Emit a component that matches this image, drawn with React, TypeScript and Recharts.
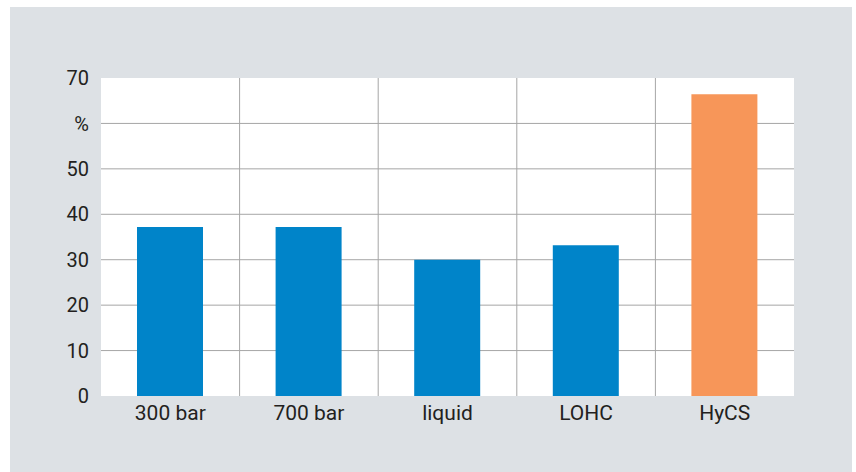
import { BarChart, Bar, XAxis, YAxis, CartesianGrid, Cell } from 'recharts';

const categories = ['300 bar', '700 bar', 'liquid', 'LOHC', 'HyCS'];
const efficiency = [37.2, 37.2, 30, 33.2, 66.4];
const yTicks = [0, 10, 20, 30, 40, 50, 60, 70];
const gridValues = [10, 20, 30, 40, 50, 60];
const unitTick = 60; // the 60 tick carries the unit label instead

const BLUE = '#0084c9';
const ORANGE = '#f79659';
const HIGHLIGHT = 'HyCS';

const data = categories.map((name, i) => ({ name, value: efficiency[i] }));

const yTickStyle = { fill: '#231f20', fontSize: 20, fontFamily: 'Roboto, sans-serif' };
const xTickStyle = { ...yTickStyle, fontSize: 21 };

export default function App() {
  return (
    <div style={{ position: 'absolute', left: 10, top: 7, width: 842, height: 465, background: '#dde1e5' }}>
      <BarChart
        width={842}
        height={465}
        data={data}
        margin={{ top: 71, right: 58, bottom: 0, left: 0 }}
      >
        <CartesianGrid
          fill="#ffffff"
          stroke="#a6a6a6"
          strokeWidth={1}
          horizontalValues={gridValues}
          verticalCoordinatesGenerator={({ offset }: any) =>
            [1, 2, 3, 4].map(i => offset.left + (offset.width * i) / categories.length)
          }
        />
        <XAxis
          dataKey="name"
          height={76}
          tickLine={false}
          axisLine={false}
          tickSize={0}
          tickMargin={9}
          tick={xTickStyle}
          interval={0}
        />
        <YAxis
          width={91}
          domain={[0, 70]}
          ticks={yTicks}
          tickLine={false}
          axisLine={false}
          tickSize={0}
          tickMargin={12}
          tick={yTickStyle}
          tickFormatter={(v: number) => (v === unitTick ? '%' : `${v}`)}
          interval={0}
        />
        <Bar dataKey="value" barSize={66} isAnimationActive={false}>
          {data.map(d => (
            <Cell key={d.name} fill={d.name === HIGHLIGHT ? ORANGE : BLUE} />
          ))}
        </Bar>
      </BarChart>
    </div>
  );
}
